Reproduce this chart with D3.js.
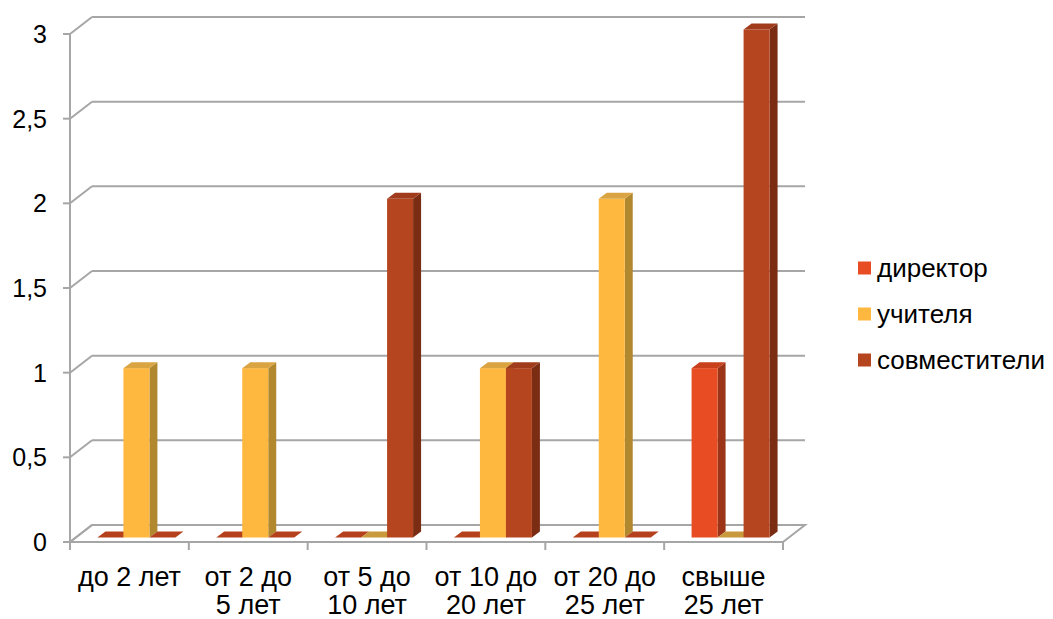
<!DOCTYPE html>
<html>
<head>
<meta charset="utf-8">
<script src="https://cdn.jsdelivr.net/npm/d3@7"></script>
<style>
  body { margin: 0; background: #fff; }
  svg { font-family: "Liberation Sans", Arial, sans-serif; }
</style>
</head>
<body>
<svg width="1053" height="619"></svg>
<script>
// data
var categories = ["до 2 лет", "от 2 до 5 лет", "от 5 до 10 лет", "от 10 до 20 лет", "от 20 до 25 лет", "свыше 25 лет"];
var catLines = [["до 2 лет"], ["от 2 до", "5 лет"], ["от 5 до", "10 лет"], ["от 10 до", "20 лет"], ["от 20 до", "25 лет"], ["свыше", "25 лет"]];
var seriesNames = ["директор", "учителя", "совместители"];
var director = [0, 0, 0, 0, 0, 1];
var teachers = [1, 1, 0, 1, 2, 0];
var combined = [0, 0, 2, 1, 0, 3];
var yTicks = [0, 0.5, 1, 1.5, 2, 2.5, 3];

var series = [director, teachers, combined];
var front = ["#E84C22", "#FFB83F", "#B5451F"];
var top_ = ["#C9401C", "#D9A441", "#A03C1C"];
var side = ["#9C3418", "#B2882F", "#7B2D14"];

var svg = d3.select("svg");

const left = 70, right = 783, bottom = 542, topY = 34;
const wx = 22, wy = -17;      // wall depth
const ox = 7, oy = -4.5;      // bar front face offset into depth
const bx = 8, by = -6;        // bar depth
const grid = "#A6A6A6";

var x = d3.scaleBand().domain(categories).range([left, right]);
var y = d3.scaleLinear().domain([0, 3]).range([bottom, topY]);
var barW = 26;

// back wall gridlines + left wall diagonals
var g = svg.append("g");
yTicks.forEach(function(t) {
  if (t > 0) {
    g.append("line").attr("x1", left + wx).attr("x2", right + wx)
      .attr("y1", y(t) + wy).attr("y2", y(t) + wy)
      .attr("stroke", grid).attr("stroke-width", 2);
  }
  g.append("line").attr("x1", left).attr("y1", y(t))
    .attr("x2", left + wx).attr("y2", y(t) + wy)
    .attr("stroke", grid).attr("stroke-width", 2);
  // tick
  g.append("line").attr("x1", left - 7).attr("x2", left)
    .attr("y1", y(t)).attr("y2", y(t))
    .attr("stroke", grid).attr("stroke-width", 2);
  g.append("text").attr("x", 47).attr("y", y(t)).attr("dy", "0.36em")
    .attr("text-anchor", "end").attr("font-size", 25).attr("fill", "#000")
    .text(String(t).replace(".", ","));
});

// left vertical axis
g.append("line").attr("x1", left).attr("x2", left).attr("y1", y(3)).attr("y2", bottom + 8)
  .attr("stroke", grid).attr("stroke-width", 2);

// floor
g.append("path")
  .attr("d", "M" + left + "," + bottom + "L" + right + "," + bottom + "L" + (right + wx) + "," + (bottom + wy) +
    "L" + (left + wx) + "," + (bottom + wy) + "Z")
  .attr("fill", "none").attr("stroke", grid).attr("stroke-width", 2);

// x ticks
categories.concat([null]).forEach(function(c, i) {
  var xx = c ? x(c) : right;
  g.append("line").attr("x1", xx).attr("x2", xx).attr("y1", bottom).attr("y2", bottom + 8)
    .attr("stroke", grid).attr("stroke-width", 2);
});

// bars
var bars = svg.append("g");
categories.forEach(function(c, i) {
  var x0 = x(c) + x.bandwidth() / 2 - barW * 1.5 + ox;
  series.forEach(function(s, k) {
    var xl = x0 + k * barW, xr = xl + barW;
    var yb = y(0) + oy, yt = y(s[i]) + oy;
    // side face
    if (s[i] > 0) {
      bars.append("path")
        .attr("d", "M" + xr + "," + yt + "L" + (xr + bx) + "," + (yt + by) + "L" + (xr + bx) + "," + (yb + by) + "L" + xr + "," + yb + "Z")
        .attr("fill", side[k]);
      bars.append("rect").attr("x", xl).attr("y", yt).attr("width", barW).attr("height", yb - yt)
        .attr("fill", front[k]);
    }
    // top face
    bars.append("path")
      .attr("d", "M" + xl + "," + yt + "L" + xr + "," + yt + "L" + (xr + bx) + "," + (yt + by) + "L" + (xl + bx) + "," + (yt + by) + "Z")
      .attr("fill", s[i] > 0 ? top_[k] : (k === 1 ? "#C99A3C" : "#B5401C"));
  });
});

// category labels
var labels = svg.append("g").attr("font-size", 27).attr("fill", "#000").attr("text-anchor", "middle");
categories.forEach(function(c, i) {
  var t = labels.append("text").attr("x", x(c) + x.bandwidth() / 2).attr("y", 586);
  catLines[i].forEach(function(line, j) {
    t.append("tspan").attr("x", x(c) + x.bandwidth() / 2).attr("dy", j ? 28 : 0).text(line);
  });
});

// legend
var legend = svg.append("g").attr("transform", "translate(858,268)");
seriesNames.forEach(function(n, k) {
  var row = legend.append("g").attr("transform", "translate(0," + k * 46 + ")");
  row.append("rect").attr("x", 0).attr("y", -6.5).attr("width", 13).attr("height", 13).attr("fill", front[k]);
  row.append("text").attr("x", 19).attr("y", 0).attr("dy", "0.36em").attr("font-size", 26).text(n);
});
</script>
</body>
</html>
